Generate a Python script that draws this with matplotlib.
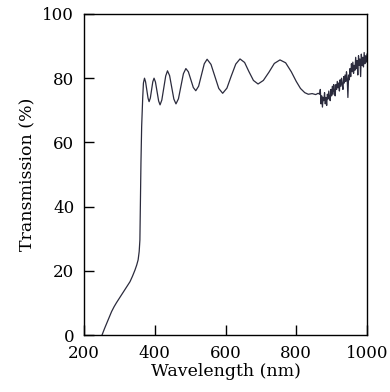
import matplotlib
matplotlib.use('Agg')
import matplotlib.pyplot as plt
import numpy as np

# absorption edge
wl_edge = [251, 258, 264, 271, 278, 285, 292, 299, 306, 318, 330, 337, 344, 349, 353, 356, 358, 359, 360, 361, 363, 366, 368]
t_edge = [0, 2.0, 3.6, 5.5, 7.3, 8.8, 10.1, 11.3, 12.5, 14.5, 16.6, 18.3, 20.2, 21.8, 23.4, 26, 29.6, 38, 48, 53.6, 65, 74, 78.5]

# interference fringes
wl_fringe = [371, 374, 377.5, 381, 384, 387.5, 391, 394.5, 398, 402, 406.5, 411, 415, 420, 425.5, 431, 436,
             442, 448, 454, 460, 467, 474, 481, 488, 495, 502, 509, 516, 524, 532, 540, 548,
             559, 570, 581, 592, 604, 616, 629, 641, 654, 666, 679, 692, 707, 723, 738, 754,
             770, 786, 800, 812, 824, 834, 845, 855, 862, 866]
t_fringe = [80.0, 78.9, 76.3, 73.8, 72.7, 73.8, 76.3, 78.9, 80.0, 78.8, 75.8, 72.9, 71.7, 73.2, 77.0, 80.7, 82.3,
            80.8, 77.1, 73.5, 72.0, 73.6, 77.5, 81.4, 83.0, 82.0, 79.5, 77.1, 76.1, 77.5, 81.0, 84.5, 85.9,
            84.3, 80.6, 76.8, 75.3, 76.9, 80.6, 84.4, 86.0, 84.9, 82.1, 79.3, 78.2, 79.3, 81.9, 84.6, 85.7,
            84.8, 82.0, 79.0, 76.8, 75.5, 75.0, 75.2, 74.9, 75.3, 75.0]

# noisy region above ~867 nm
wl_noise = list(range(868, 1001, 2))
t_noise = [76.5, 72, 74.5, 71, 74, 73, 75.5, 72, 74, 71.5, 75, 73.5, 76, 74, 73, 76.5, 74.5, 77.5, 75, 78,
           76, 74.5, 78, 76.5, 79, 77, 78.5, 76, 79.5, 77.5, 80, 78, 76.5, 80.5, 78.5, 81, 79, 82, 80, 74,
           81, 79.5, 83, 80.5, 84.5, 82, 85, 81.5, 84, 82.5, 86.5, 83, 85.5, 81, 87, 84, 86, 80.5, 87.5, 84,
           86.5, 83.5, 88, 84.5, 87, 85, 87.5]

wl = wl_edge + wl_fringe + wl_noise
t = t_edge + t_fringe + t_noise

plt.rcParams['font.family'] = ['DejaVu Serif']
fig = plt.figure(figsize=(3.9, 3.92), dpi=100)
ax = fig.add_axes([84 / 390, 1 - 335 / 392, 283 / 390, 321 / 392])

ax.plot(wl, t, color='#2b2b3d', linewidth=0.9)

ax.set_xlim(200, 1000)
ax.set_ylim(0, 100)
ax.set_xticks([200, 400, 600, 800, 1000])
ax.set_yticks([0, 20, 40, 60, 80, 100])
ax.tick_params(direction='in', length=7, width=1, labelsize=12, pad=7)
for s in ax.spines.values():
    s.set_linewidth(1)
ax.set_xlabel('Wavelength (nm)', fontsize=12.5, labelpad=1)
ax.set_ylabel('Transmission (%)', fontsize=12.5, labelpad=4)

fig.savefig('out.png', dpi=100)
